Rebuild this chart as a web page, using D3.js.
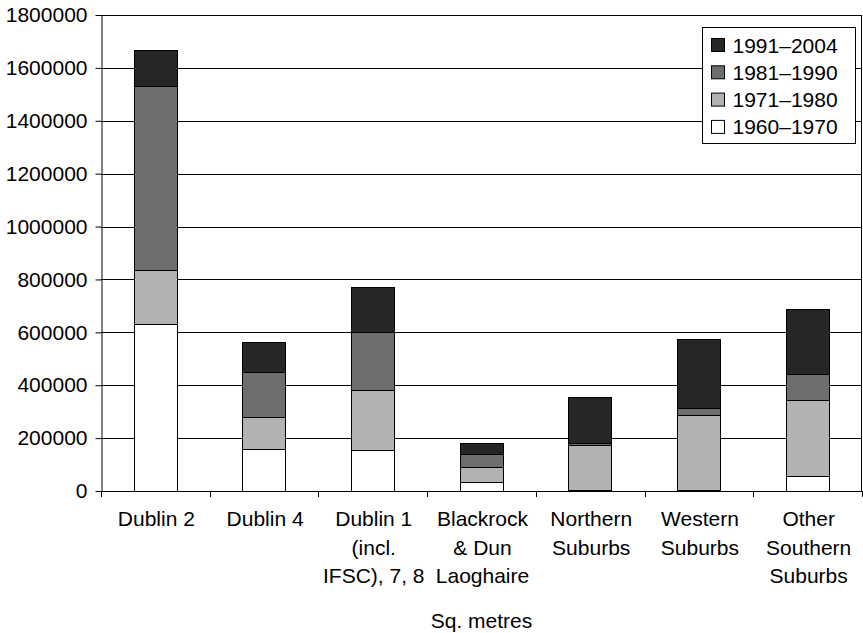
<!DOCTYPE html>
<html>
<head>
<meta charset="utf-8">
<script src="https://cdn.jsdelivr.net/npm/d3@7/dist/d3.min.js"></script>
<style>
  html, body { margin: 0; padding: 0; background: #fff; }
  svg { display: block; font-family: "Liberation Sans", Arial, Helvetica, sans-serif; }
</style>
</head>
<body>
<svg id="chart" width="863" height="633"></svg>
<script>
// Office floor space by district and construction period (sq. metres)
const categories = [
  ["Dublin 2"],
  ["Dublin 4"],
  ["Dublin 1", "(incl.", "IFSC), 7, 8"],
  ["Blackrock", "& Dun", "Laoghaire"],
  ["Northern", "Suburbs"],
  ["Western", "Suburbs"],
  ["Other", "Southern", "Suburbs"]
];
const periods = ["1960–1970", "1971–1980", "1981–1990", "1991–2004"];
const s1960_1970 = [632000, 159000, 155000, 34000, 3000, 3000, 57000];
const s1971_1980 = [203000, 121000, 228000, 56000, 172000, 285000, 287000];
const s1981_1990 = [695000, 169000, 218000, 50000, 6000, 24000, 97000];
const s1991_2004 = [138000, 113000, 169000, 43000, 175000, 263000, 248000];
const yTicks = [0, 200000, 400000, 600000, 800000, 1000000, 1200000, 1400000, 1600000, 1800000];
const axisTitle = "Sq. metres";

const colors = ["#ffffff", "#b2b2b2", "#6e6e6e", "#262626"];
const series = [s1960_1970, s1971_1980, s1981_1990, s1991_2004];
const FS = 21;

const svg = d3.select("#chart");
const margin = { left: 101, right: 1, top: 15, bottom: 142 };
const W = 863, H = 633;
const x0 = margin.left, x1 = W - margin.right;
const y0 = H - margin.bottom, y1 = margin.top;

const keys = categories.map(c => c.join(" "));
const x = d3.scaleBand().domain(keys).range([x0, x1]).padding(0);
const y = d3.scaleLinear().domain([0, 1800000]).range([y0, y1]);

// Gridlines
svg.append("g")
  .selectAll("line")
  .data(yTicks)
  .join("line")
  .attr("x1", x0).attr("x2", x1)
  .attr("y1", d => Math.round(y(d)) + 0.5).attr("y2", d => Math.round(y(d)) + 0.5)
  .attr("stroke", "#000").attr("stroke-width", 1);

// Right edge of plot
svg.append("line")
  .attr("x1", x1 - 0.5).attr("x2", x1 - 0.5)
  .attr("y1", y1).attr("y2", y0)
  .attr("stroke", "#000");

// Stacked bars
const rows = keys.map((k, i) => {
  const r = { key: k };
  periods.forEach((p, j) => { r[p] = series[j][i]; });
  return r;
});
const stacked = d3.stack().keys(periods)(rows);
const barW = x.bandwidth() * 0.4;

svg.append("g")
  .selectAll("g")
  .data(stacked)
  .join("g")
  .attr("fill", (d, i) => colors[i])
  .selectAll("rect")
  .data(d => d)
  .join("rect")
  .attr("x", d => Math.round(x(d.data.key) + (x.bandwidth() - barW) / 2) + 0.5)
  .attr("width", Math.round(barW))
  .attr("y", d => Math.round(y(d[1])) + 0.5)
  .attr("height", d => Math.max(0, Math.round(y(d[0])) - Math.round(y(d[1]))))
  .attr("stroke", "#000")
  .attr("stroke-width", 1);

// Y axis
const yAxis = d3.axisLeft(y).tickValues(yTicks).tickSize(6).tickSizeOuter(0).tickPadding(8)
  .tickFormat(d3.format("d"));
const gy = svg.append("g").attr("transform", `translate(${x0 + 0.5},0)`).call(yAxis);
gy.select(".domain").attr("stroke", "#000");
gy.selectAll(".tick line").attr("stroke", "#000");
gy.selectAll("text").attr("font-size", FS).attr("fill", "#000")
  .attr("font-family", "Liberation Sans, Arial, sans-serif");

// X axis: tick marks at category boundaries
const gx = svg.append("g");
gx.append("line")
  .attr("x1", x0).attr("x2", x1)
  .attr("y1", Math.round(y0) + 0.5).attr("y2", Math.round(y0) + 0.5)
  .attr("stroke", "#000");
const bounds = keys.map(k => x(k)).concat([x1]);
gx.selectAll("line.tk")
  .data(bounds)
  .join("line")
  .attr("class", "tk")
  .attr("x1", d => Math.round(d) + 0.5).attr("x2", d => Math.round(d) + 0.5)
  .attr("y1", y0).attr("y2", y0 + 6)
  .attr("stroke", "#000");

// Category labels (multi-line)
const lbl = gx.selectAll("text.cat")
  .data(categories)
  .join("text")
  .attr("class", "cat")
  .attr("text-anchor", "middle")
  .attr("font-size", FS)
  .attr("fill", "#000")
  .attr("transform", (d, i) => `translate(${x(keys[i]) + x.bandwidth() / 2 + 1},${y0 + 35})`);
lbl.selectAll("tspan")
  .data(d => d)
  .join("tspan")
  .attr("x", 0)
  .attr("dy", (d, i) => i === 0 ? 0 : 28.5)
  .text(d => d);

// Axis title
svg.append("text")
  .attr("x", (x0 + x1) / 2)
  .attr("y", 628)
  .attr("text-anchor", "middle")
  .attr("font-size", FS)
  .attr("fill", "#000")
  .text(axisTitle);

// Legend
const legend = svg.append("g").attr("transform", "translate(702.5,27.5)");
legend.append("rect")
  .attr("width", 153).attr("height", 116)
  .attr("fill", "#fff").attr("stroke", "#000");
const items = periods.map((p, i) => ({ p, c: colors[i] })).reverse();
const li = legend.selectAll("g.item")
  .data(items)
  .join("g")
  .attr("class", "item")
  .attr("transform", (d, i) => `translate(9,${11 + i * 27.3})`);
li.append("rect")
  .attr("width", 13).attr("height", 13)
  .attr("fill", d => d.c).attr("stroke", "#000");
li.append("text")
  .attr("x", 21).attr("y", 14)
  .attr("font-size", FS)
  .attr("fill", "#000")
  .text(d => d.p);
</script>
</body>
</html>
